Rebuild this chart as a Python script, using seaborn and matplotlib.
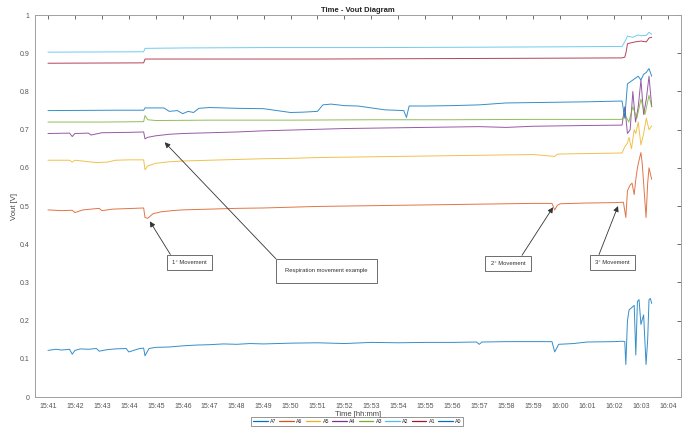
import pandas as pd
import matplotlib
matplotlib.use("Agg")
import matplotlib.pyplot as plt
import seaborn as sns

sns.set_theme(style="white")
plt.rcParams['font.family'] = ['Liberation Sans', 'DejaVu Sans']

# time axis: minutes after 15:41
START = "2020-01-01 15:41"
tick_labels = ["15:41", "15:42", "15:43", "15:44", "15:45", "15:46", "15:47", "15:48",
               "15:49", "15:50", "15:51", "15:52", "15:53", "15:54", "15:55", "15:56",
               "15:57", "15:58", "15:59", "16:00", "16:01", "16:02", "16:03", "16:04"]
y_ticks = [0, 0.1, 0.2, 0.3, 0.4, 0.5, 0.6, 0.7, 0.8, 0.9, 1]
y_tick_labels = ["0", "0.1", "0.2", "0.3", "0.4", "0.5", "0.6", "0.7", "0.8", "0.9", "1"]

channels = ["A7", "A6", "A5", "A4", "A3", "A2", "A1", "A0"]

a7_t = [0, 0.3, 0.5, 0.8, 0.9, 1.0, 1.2, 1.5, 1.8, 1.9, 2.2, 2.5, 2.9, 3.0, 3.4, 3.55,
        3.6, 3.75, 4.0, 4.5, 5.0, 5.5, 6.0, 6.5, 7.0, 7.5, 8.0, 9.0, 10.0, 11.0, 12.0, 13.0,
        14.0, 15.0, 15.9, 16.0, 16.1, 17.0, 18.0, 18.7, 18.8, 18.95, 19.5, 20.0, 21.0, 21.3,
        21.4, 21.44, 21.5, 21.56, 21.67, 21.75, 21.81, 21.87, 21.93, 22.0, 22.1, 22.19, 22.25,
        22.3, 22.35, 22.4]
a7_v = [0.122, 0.125, 0.123, 0.125, 0.112, 0.122, 0.126, 0.125, 0.127, 0.120, 0.124, 0.126,
        0.127, 0.118, 0.127, 0.128, 0.108, 0.127, 0.130, 0.131, 0.134, 0.136, 0.137, 0.139,
        0.138, 0.140, 0.139, 0.141, 0.142, 0.140, 0.143, 0.142, 0.143, 0.143, 0.144, 0.138,
        0.144, 0.145, 0.145, 0.145, 0.118, 0.138, 0.140, 0.144, 0.145, 0.146, 0.145, 0.085,
        0.200, 0.228, 0.235, 0.240, 0.110, 0.250, 0.255, 0.190, 0.215, 0.085, 0.150, 0.255,
        0.258, 0.245]

a6_t = [0, 0.5, 0.9, 1.0, 1.3, 1.6, 1.9, 2.0, 2.4, 2.8, 3.2, 3.55, 3.6, 3.7, 3.9, 4.2,
        4.6, 5.0, 6.0, 7.0, 8.0, 9.0, 10.0, 11.0, 12.0, 13.0, 14.0, 15.0, 16.0, 17.0, 18.0,
        18.7, 18.8, 18.9, 19.0, 20.0, 21.0, 21.35, 21.44, 21.5, 21.6, 21.67, 21.75, 21.81,
        21.87, 21.93, 22.0, 22.05, 22.19, 22.25, 22.3, 22.4]
a6_v = [0.490, 0.488, 0.489, 0.483, 0.490, 0.492, 0.494, 0.488, 0.492, 0.493, 0.494, 0.495,
        0.470, 0.468, 0.480, 0.485, 0.488, 0.490, 0.492, 0.494, 0.495, 0.497, 0.499, 0.500,
        0.501, 0.502, 0.503, 0.504, 0.505, 0.506, 0.507, 0.507, 0.490, 0.502, 0.506, 0.508,
        0.509, 0.510, 0.470, 0.540, 0.555, 0.560, 0.530, 0.570, 0.600, 0.620, 0.640, 0.610,
        0.470, 0.560, 0.600, 0.570]

a5_t = [0, 0.8, 0.9, 1.0, 1.8, 2.2, 2.5, 3.0, 3.55, 3.6, 3.7, 4.0, 4.5, 5.0, 6.0, 7.0,
        8.0, 9.0, 10.0, 11.0, 12.0, 13.0, 14.0, 15.0, 16.0, 17.0, 18.0, 18.8, 18.9, 19.5,
        20.5, 21.3, 21.4, 21.5, 21.56, 21.65, 21.75, 21.81, 21.9, 22.0, 22.1, 22.2, 22.3, 22.4]
a5_v = [0.620, 0.620, 0.615, 0.620, 0.614, 0.615, 0.620, 0.621, 0.621, 0.595, 0.605, 0.612,
        0.616, 0.618, 0.620, 0.622, 0.624, 0.625, 0.627, 0.628, 0.629, 0.630, 0.631, 0.632,
        0.633, 0.634, 0.635, 0.630, 0.636, 0.637, 0.638, 0.639, 0.655, 0.665, 0.680, 0.650,
        0.700, 0.690, 0.720, 0.660, 0.690, 0.730, 0.700, 0.710]

a4_t = [0, 0.8, 0.9, 1.0, 1.5, 1.6, 2.0, 3.0, 3.55, 3.6, 3.7, 4.0, 4.5, 5.0, 6.0, 7.0,
        8.0, 9.0, 10.0, 11.0, 12.0, 13.0, 14.0, 15.0, 16.0, 17.0, 18.0, 19.0, 20.0, 21.3,
        21.4, 21.5, 21.6, 21.7, 21.8, 21.9, 22.0, 22.1, 22.2, 22.3, 22.4]
a4_v = [0.690, 0.691, 0.682, 0.690, 0.691, 0.686, 0.692, 0.693, 0.694, 0.676, 0.680, 0.684,
        0.688, 0.690, 0.692, 0.694, 0.697, 0.699, 0.701, 0.703, 0.704, 0.705, 0.706, 0.707,
        0.708, 0.706, 0.709, 0.710, 0.711, 0.712, 0.760, 0.690, 0.700, 0.800, 0.720, 0.760,
        0.830, 0.740, 0.780, 0.840, 0.760]

a3_t = [0, 2.0, 3.55, 3.6, 3.7, 4.0, 6.0, 9.0, 12.0, 15.0, 18.0, 21.3, 21.4, 21.55, 21.7,
        21.85, 22.0, 22.15, 22.3, 22.4]
a3_v = [0.720, 0.720, 0.721, 0.737, 0.726, 0.724, 0.725, 0.725, 0.726, 0.726, 0.727, 0.727,
        0.740, 0.720, 0.760, 0.730, 0.780, 0.740, 0.790, 0.760]

a2_t = [0, 3.55, 3.6, 5.0, 8.0, 12.0, 16.0, 19.0, 21.3, 21.4, 21.5, 21.7, 21.9, 22.0, 22.2,
        22.3, 22.4]
a2_v = [0.903, 0.904, 0.913, 0.914, 0.915, 0.915, 0.916, 0.917, 0.918, 0.930, 0.945, 0.942,
        0.948, 0.946, 0.947, 0.955, 0.950]

a1_t = [0, 3.55, 3.6, 6.0, 10.0, 14.0, 18.0, 21.3, 21.4, 21.45, 21.5, 21.6, 21.8, 22.0, 22.2,
        22.3, 22.4]
a1_v = [0.874, 0.875, 0.885, 0.885, 0.885, 0.886, 0.887, 0.888, 0.890, 0.903, 0.925, 0.927,
        0.930, 0.932, 0.930, 0.940, 0.942]

a0_t = [0, 2.5, 3.55, 3.6, 4.3, 4.5, 4.8, 5.0, 5.2, 5.4, 5.6, 6.0, 7.0, 8.0, 8.5, 9.0,
        9.5, 10.0, 10.2, 10.5, 11.0, 11.5, 12.0, 12.5, 13.2, 13.3, 13.4, 14.0, 15.0, 16.0,
        17.0, 18.0, 19.0, 20.0, 21.3, 21.4, 21.5, 21.6, 21.7, 21.8, 21.9, 22.0, 22.1, 22.2,
        22.3, 22.4]
a0_v = [0.750, 0.751, 0.751, 0.757, 0.757, 0.748, 0.750, 0.742, 0.748, 0.745, 0.756, 0.758,
        0.756, 0.755, 0.750, 0.745, 0.746, 0.748, 0.765, 0.767, 0.763, 0.762, 0.757, 0.752,
        0.750, 0.732, 0.762, 0.762, 0.763, 0.765, 0.770, 0.771, 0.772, 0.773, 0.775, 0.730,
        0.820, 0.825, 0.830, 0.835, 0.840, 0.830, 0.845, 0.850, 0.860, 0.840]

colors = ["#0072BD", "#D95319", "#EDB120", "#7E2F8E", "#77AC30", "#4DBEEE", "#A2142F", "#0072BD"]

# annotations: text, arrow tip (minute, value), box centre (minute, value), arrow start on box, box pad
notes = [
    ("1° Movement", 3.78, 0.46, 5.25, 0.352, (0.05, 1), 0.9),
    ("Respiration movement example", 4.33, 0.667, 10.33, 0.33, (0.0, 1), 1.6),
    ("2° Movement", 18.74, 0.497, 17.07, 0.35, (0.8, 1), 0.9),
    ("3° Movement", 21.15, 0.50, 20.93, 0.352, (0.06, 1), 0.9),
]


def build_frame():
    series = {"A7": (a7_t, a7_v), "A6": (a6_t, a6_v), "A5": (a5_t, a5_v), "A4": (a4_t, a4_v),
              "A3": (a3_t, a3_v), "A2": (a2_t, a2_v), "A1": (a1_t, a1_v), "A0": (a0_t, a0_v)}
    parts = []
    for name, (t, v) in series.items():
        parts.append(pd.DataFrame({"minute": t, "Vout": v, "channel": name}))
    df = pd.concat(parts, ignore_index=True)
    df["time"] = pd.Timestamp(START) + pd.to_timedelta(df["minute"], unit="min")
    return df


def to_time(m):
    return pd.Timestamp(START) + pd.to_timedelta(m, unit="min")


def plot_vout():
    df = build_frame()
    fig = plt.figure(figsize=(6.87, 4.32), dpi=100)
    ax = fig.add_axes([0.051, 0.081, 0.94, 0.884])

    for name, col in zip(channels, colors):
        sub = df[df["channel"] == name]
        sns.lineplot(data=sub, x="time", y="Vout", ax=ax, color=col, linewidth=0.7,
                     alpha=0.8, label=name, estimator=None, sort=False)

    ticks = [pd.Timestamp("2020-01-01 " + s) for s in tick_labels]
    ax.set_xticks(ticks)
    ax.set_xticklabels(tick_labels)
    ax.set_xlim(to_time(-0.48), to_time(23.48))
    ax.set_yticks(y_ticks)
    ax.set_yticklabels(y_tick_labels)
    ax.set_ylim(0, 1)

    ax.tick_params(direction="in", length=3, width=0.6, top=True, right=True,
                   labelsize=5, colors="#555555", pad=4)
    for s in ax.spines.values():
        s.set_color("#a0a0a0")
        s.set_linewidth(0.7)

    ax.set_title("Time - Vout Diagram", fontsize=5.5, fontweight="bold", pad=2, color="#222222")
    ax.set_xlabel("Time [hh:mm]", fontsize=5.5, color="#444444", labelpad=1)
    ax.set_ylabel("Vout [V]", fontsize=5.5, color="#444444", labelpad=1)

    for text, tx, ty, bx, by, rp, pad in notes:
        ax.annotate(text, xy=(to_time(tx), ty), xytext=(to_time(bx), by),
                    ha="center", va="center", fontsize=4.2, color="#333333",
                    bbox=dict(boxstyle="square,pad=%.1f" % pad, fc="white", ec="#555555", lw=0.6),
                    arrowprops=dict(arrowstyle="-|>", color="#333333", lw=0.6,
                                    mutation_scale=8, relpos=rp, shrinkA=0, shrinkB=0))

    ax.get_legend().remove()
    handles, labels = ax.get_legend_handles_labels()
    leg = fig.legend(handles, labels, loc="center", bbox_to_anchor=(0.52, 0.025), ncol=8,
                     fontsize=3.8, frameon=True, handlelength=2.8, columnspacing=0.6,
                     handletextpad=0.4, borderpad=0.35, fancybox=False, edgecolor="#666666")
    leg.get_frame().set_linewidth(0.6)
    for line, col in zip(leg.get_lines(), colors):
        line.set_color(col)
        line.set_linewidth(0.9)
        line.set_alpha(1)

    fig.savefig("out.png", dpi=100)


if __name__ == "__main__":
    plot_vout()
